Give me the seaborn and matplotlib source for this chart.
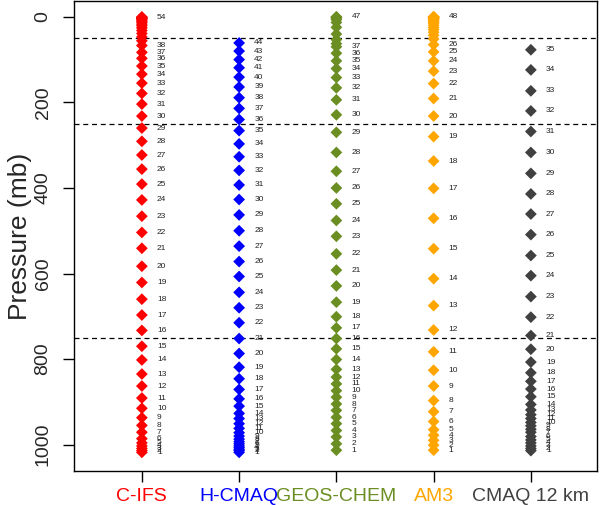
import numpy as np
import pandas as pd
import matplotlib
matplotlib.use("Agg")
import matplotlib.pyplot as plt
import seaborn as sns

# ===================== vertical levels of each model =====================
models = ["C-IFS", "H-CMAQ", "GEOS-CHEM", "AM3", "CMAQ 12 km"]
colors = ["#FF0000", "#0000FF", "#6B8E23", "#FFA500", "#404040"]

# pressure (mb) of level 1 (surface) upward
cifs_p = [1018, 1014, 1009, 1003, 996, 986, 971, 955, 937, 915, 891, 863, 835, 802,
          770, 733, 697, 660, 621, 583, 541, 504, 466, 428, 391, 356, 323, 291, 260,
          232, 204, 179, 155, 134, 115, 97, 83, 67, 56, 47, 39, 32, 26, 21, 17, 13,
          10, 7.5, 5.5, 4, 2.8, 1.8, 1, 0.4]
hcmaq_p = [1018, 1014, 1011, 1007, 1003, 998, 993, 987, 980, 972, 962, 951, 939, 927,
           910, 893, 871, 846, 819, 787, 752, 715, 680, 644, 607, 572, 536, 500, 463,
           427, 393, 359, 327, 297, 266, 240, 214, 189, 164, 141, 119, 100, 80, 61]
geos_p = [1013, 998, 982, 967, 951, 936, 920, 905, 889, 874, 858, 842, 824, 801, 776,
          752, 727, 701, 667, 629, 592, 554, 513, 476, 437, 400, 361, 317, 270, 229,
          194, 166, 142, 121, 103, 85, 70, 62.7, 53.3, 40.2, 24.5, 13.1, 6.7, 3.2,
          1.3, 0.4, 0.05]
am3_p = [1013, 1001, 990, 978, 965, 946, 923, 897, 863, 826, 783, 732, 675, 612, 542,
         471, 401, 337, 280, 232, 191, 156, 127, 103, 82, 65, 52, 43, 36, 30, 25, 20,
         16, 13, 10, 8, 6, 4.7, 3.6, 2.7, 2, 1.4, 1, 0.7, 0.45, 0.25, 0.1, 0.02]
cmaq_p = [1014, 1009, 1003, 996, 989, 981, 971, 964, 956, 948, 939, 930, 919, 906,
          888, 870, 852, 832, 807, 777, 745, 702, 654, 605, 558, 509, 461, 414, 366,
          317, 268, 220, 173, 124, 77]

# highest level number that still gets a text label below the crowded top
label_top = [38, 44, 37, 26, 35]

dashed_p = [50, 250, 750]

profiles = [cifs_p, hcmaq_p, geos_p, am3_p, cmaq_p]
rows = []
for i, (m, pr) in enumerate(zip(models, profiles)):
    for lev, p in enumerate(pr, start=1):
        rows.append({"model": m, "x": i + 1, "level": lev, "p": p})
df = pd.DataFrame(rows)

sns.set_style("ticks")
plt.rcParams["font.family"] = ["Liberation Sans", "DejaVu Sans"]

fig = plt.figure(figsize=(6.0, 5.05), dpi=100)
ax = fig.add_axes([0.123, 0.067, 0.872, 0.931])

sns.scatterplot(data=df, x="x", y="p", hue="model", palette=colors,
                hue_order=models, marker="D", s=36, linewidth=0,
                legend=False, ax=ax, zorder=3)

for i, (m, pr) in enumerate(zip(models, profiles)):
    n = len(pr)
    for lev, p in enumerate(pr, start=1):
        if lev <= label_top[i] or lev == n:
            ax.text(i + 1 + 0.155, p, str(lev), fontsize=6, color="#222222",
                    ha="left", va="center")

for p in dashed_p:
    ax.axhline(p, color="black", ls=(0, (4, 3)), lw=0.9, zorder=1)

ax.set_xlim(0.30, 5.68)
ax.set_ylim(1062, -37)
ax.set_xticks(range(1, 6))
ax.set_xticklabels(models, fontsize=14)
for lab, c in zip(ax.get_xticklabels(), colors):
    lab.set_color(c)
ax.set_yticks(range(0, 1001, 200))
ax.set_yticklabels([str(v) for v in range(0, 1001, 200)], fontsize=14,
                   rotation=90, va="center")
ax.tick_params(axis="both", length=8, width=1, color="black")
ax.tick_params(axis="x", pad=4)
ax.tick_params(axis="y", pad=8)
ax.set_xlabel("")
ax.set_ylabel("Pressure (mb)", fontsize=19, labelpad=2)
for s in ax.spines.values():
    s.set_color("black")
    s.set_linewidth(1)

fig.savefig("out.png", dpi=100)
